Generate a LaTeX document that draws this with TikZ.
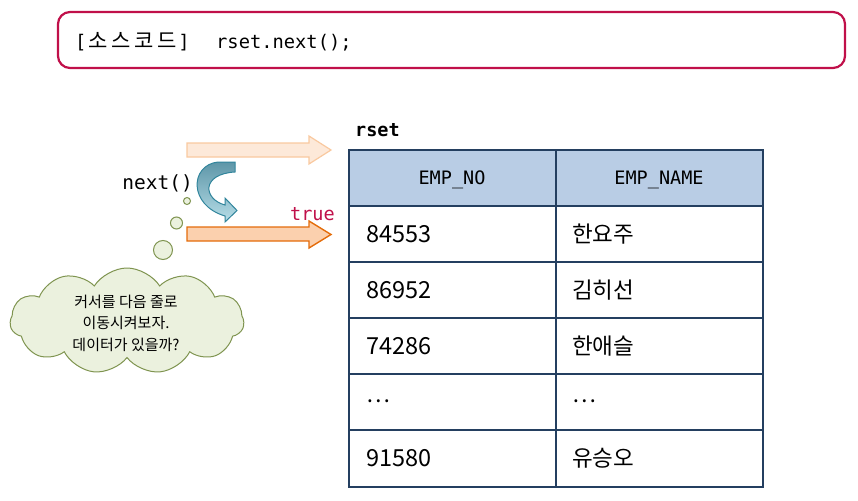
\documentclass[tikz,border=0pt]{standalone}
\usepackage{fontspec}
\newfontfamily\cjk{Noto Sans CJK KR}
\newfontfamily\mono{DejaVu Sans Mono}
\usetikzlibrary{shapes.symbols}
\definecolor{crimson}{HTML}{C0104A}
\definecolor{navy}{HTML}{243F60}
\definecolor{headblue}{HTML}{B9CDE5}
\definecolor{paleor}{HTML}{FDE9D9}
\definecolor{paleorline}{HTML}{F9C9A0}
\definecolor{orfill}{HTML}{FBD0AE}
\definecolor{orline}{HTML}{E46C0A}
\definecolor{tealline}{HTML}{31859C}
\definecolor{tealtop}{HTML}{5E96A8}
\definecolor{tealbot}{HTML}{B7DEE8}
\definecolor{cloudfill}{HTML}{EBF1DE}
\definecolor{cloudline}{HTML}{7F9450}
\newcommand{\kc}[1]{\makebox[23pt]{#1}}
\tikzset{
  codebox/.style={draw=crimson, line width=2.2pt, rounded corners=12pt},
  tline/.style={draw=navy, line width=2.4pt},
  numtext/.style={anchor=west, inner sep=0pt, font=\cjk\fontsize{23.5}{26}\selectfont},
  nametext/.style={anchor=west, inner sep=0pt, font=\cjk\fontsize{22.5}{26}\selectfont},
  headtext/.style={inner sep=0pt, font=\mono\fontsize{18.5}{22}\selectfont},
  bubble/.style={draw=cloudline, fill=cloudfill, line width=1pt},
}
\begin{document}
\begin{tikzpicture}[x=1pt,y=-1pt]
\useasboundingbox (0,0) rectangle (858,500);
% code box
\draw[codebox] (58,12) rectangle (845,68);
\node[anchor=west, inner sep=0pt, font=\fontsize{18.75}{23}\selectfont] (code) at (75,42)
  {\makebox[141pt][l]{{\mono[}{\cjk\fontsize{21}{23}\selectfont\kc{소}\kc{스}\kc{코}\kc{드}}{\mono]}}{\mono rset.next();}};
% table
\fill[headblue] (349,150) rectangle (763,206);
\foreach \yy in {206,262,318,374,430} \draw[tline] (349,\yy) -- (763,\yy);
\draw[tline] (556,150) -- (556,487);
\draw[tline] (349,150) rectangle (763,487);
\node[anchor=west, inner sep=0pt, font=\mono\bfseries\fontsize{18.5}{22}\selectfont] (rset) at (355,130) {rset};
\node[headtext] (h1) at (452,180) {EMP\_NO};
\node[headtext] (h2) at (659,180) {EMP\_NAME};
\node[numtext] (a1) at (366,234) {84553};
\node[nametext] (b1) at (572,234) {한요주};
\node[numtext] (a2) at (366,290) {86952};
\node[nametext] (b2) at (572,290) {김히선};
\node[numtext] (a3) at (366,346) {74286};
\node[nametext] (b3) at (572,346) {한애슬};
\node[nametext] (a4) at (366,401) {…};
\node[nametext] (b4) at (572,401) {…};
\node[numtext] (a5) at (366,458) {91580};
\node[nametext] (b5) at (572,458) {유승오};
% arrows
\draw[draw=paleorline, fill=paleor, line width=1.2pt, line join=miter]
  (187,143) -- (309,143) -- (309,136) -- (331,150) -- (309,164) -- (309,157) -- (187,157) -- cycle;
\draw[draw=orline, fill=orfill, line width=1.4pt, line join=miter]
  (187,227) -- (309,227) -- (309,221) -- (331,234.5) -- (309,248) -- (309,241) -- (187,241) -- cycle;
\node[anchor=east, inner sep=0pt, font=\mono\fontsize{19.5}{23}\selectfont] (next) at (193,183) {next()};
\node[anchor=west, inner sep=0pt, text=crimson, font=\mono\fontsize{18.5}{22}\selectfont] (true) at (290,214) {true};
% curved arrow
\draw[draw=tealline, line width=1pt, top color=tealtop, bottom color=tealbot, line join=miter]
  (235,162) -- (218,162) .. controls (190,165) and (188,205) .. (225,216)
  -- (225,222) -- (237,210.5) -- (225,198) -- (225,205)
  .. controls (203,199) and (201,174) .. (235,172) -- cycle;
% thought bubbles
\draw[bubble] (187,201) circle (3.5);
\draw[bubble] (176.5,223) circle (6);
\draw[bubble] (163,250) circle (9.5);
\node[cloud, cloud puffs=11, cloud puff arc=115, aspect=2.3, draw=cloudline, fill=cloudfill, line width=1pt,
      minimum width=234pt, minimum height=106pt, inner sep=0pt] (cloud) at (127,321) {};
\node[align=center, inner sep=0pt, font=\cjk\fontsize{15}{21.5}\selectfont] (cloudtext) at (126,323)
  {커서를 다음 줄로\\이동시켜보자.\\데이터가 있을까?};
\end{tikzpicture}
\end{document}
